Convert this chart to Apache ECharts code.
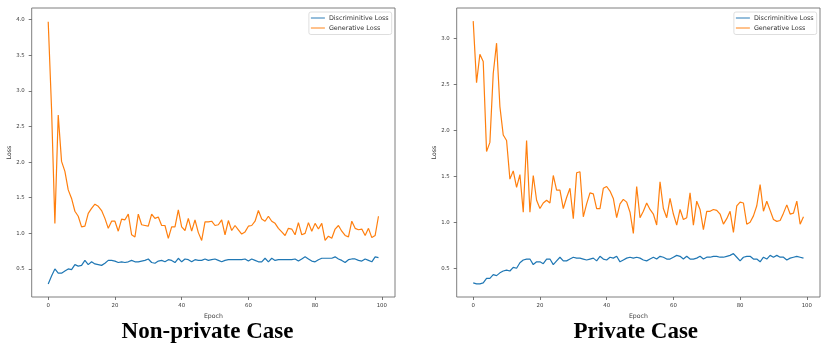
<!DOCTYPE html>
<html>
<head>
<meta charset="utf-8">
<script src="https://cdn.jsdelivr.net/npm/echarts@6/dist/echarts.min.js"></script>
<style>
html,body{margin:0;padding:0;background:#fff;}
#chart{width:831px;height:352px;}
</style>
</head>
<body>
<div id="chart"></div>
<script>
// ---- data ----
const seriesNames = ['Discriminitive Loss', 'Generative Loss'];
const panelTitles = ['Non-private Case', 'Private Case'];
const xTicks = [0, 20, 40, 60, 80, 100];
const yTicksLeft = [0.5, 1.0, 1.5, 2.0, 2.5, 3.0, 3.5, 4.0];
const yTicksRight = [0.5, 1.0, 1.5, 2.0, 2.5, 3.0];

const nonPrivateDisc = [0.29,0.40,0.50,0.44,0.44,0.47,0.50,0.49,0.56,0.54,
  0.55,0.62,0.56,0.60,0.57,0.56,0.55,0.58,0.62,0.62,
  0.61,0.59,0.60,0.59,0.60,0.62,0.60,0.60,0.61,0.62,
  0.64,0.59,0.58,0.61,0.62,0.60,0.63,0.62,0.59,0.65,
  0.60,0.64,0.63,0.60,0.63,0.62,0.62,0.64,0.62,0.63,
  0.64,0.62,0.60,0.62,0.63,0.63,0.63,0.63,0.63,0.64,
  0.61,0.64,0.62,0.60,0.60,0.65,0.60,0.65,0.62,0.63,
  0.63,0.63,0.63,0.63,0.64,0.61,0.64,0.67,0.64,0.61,
  0.60,0.63,0.65,0.65,0.65,0.65,0.67,0.64,0.62,0.59,
  0.63,0.64,0.64,0.62,0.61,0.64,0.62,0.60,0.67,0.66];
const nonPrivateGen = [3.97,2.75,1.14,2.66,2.01,1.87,1.61,1.49,1.31,1.24,
  1.09,1.10,1.28,1.35,1.41,1.38,1.32,1.21,1.07,1.17,
  1.17,1.03,1.20,1.19,1.27,0.98,0.95,1.27,1.12,1.11,
  1.10,1.27,1.21,1.23,1.11,1.11,0.93,1.09,1.09,1.33,
  1.09,1.04,1.21,1.03,1.19,1.01,0.90,1.16,1.16,1.17,
  1.11,1.12,1.19,0.98,1.18,1.04,1.11,1.05,0.99,1.02,
  1.10,1.11,1.17,1.32,1.20,1.17,1.24,1.17,1.14,1.07,
  1.02,0.97,1.07,1.06,0.98,1.15,0.98,1.00,1.15,1.03,
  1.14,1.06,1.14,0.90,0.96,0.93,1.06,1.11,1.03,0.97,
  0.95,1.17,1.07,1.05,1.06,0.97,1.07,0.94,0.97,1.24];
const privateDisc = [0.34,0.33,0.33,0.34,0.39,0.39,0.43,0.42,0.45,0.47,
  0.48,0.47,0.51,0.50,0.56,0.59,0.60,0.60,0.54,0.57,
  0.57,0.55,0.60,0.60,0.54,0.58,0.62,0.58,0.58,0.60,
  0.62,0.61,0.61,0.60,0.59,0.60,0.61,0.58,0.63,0.60,
  0.59,0.62,0.61,0.63,0.57,0.59,0.61,0.62,0.61,0.62,
  0.61,0.59,0.58,0.60,0.62,0.60,0.63,0.62,0.60,0.60,
  0.62,0.64,0.63,0.60,0.63,0.60,0.60,0.61,0.63,0.60,
  0.62,0.62,0.63,0.63,0.62,0.62,0.63,0.64,0.66,0.62,
  0.58,0.62,0.63,0.63,0.60,0.60,0.57,0.62,0.60,0.64,
  0.62,0.64,0.62,0.62,0.59,0.61,0.62,0.63,0.62,0.61];
const privateGen = [3.19,2.52,2.83,2.75,1.77,1.87,2.62,2.95,2.26,1.95,
  1.89,1.47,1.56,1.38,1.52,1.11,1.89,1.11,1.51,1.24,
  1.15,1.21,1.24,1.21,1.51,1.35,1.35,1.15,1.27,1.37,
  1.04,1.54,1.55,1.06,1.20,1.32,1.31,1.15,1.15,1.37,
  1.39,1.34,1.26,1.05,1.20,1.25,1.22,1.11,0.88,1.39,
  1.05,1.12,1.21,1.14,1.09,0.97,1.44,1.15,1.05,1.26,
  1.09,0.97,1.14,1.03,1.05,1.32,0.97,1.23,1.14,0.92,
  1.12,1.12,1.14,1.13,1.09,0.98,1.04,1.12,0.89,1.18,
  1.22,1.21,0.98,1.00,1.07,1.18,1.41,1.12,1.23,1.13,
  1.03,1.01,1.02,1.10,1.19,1.09,1.10,1.23,0.98,1.06];

// ---- chart ----
const BLUE = '#1f77b4', ORANGE = '#ff7f0e';
const pairs = arr => arr.map((v, i) => [i, v]);
const tickFont = { fontSize: 5.4, color: '#3a3a3a', fontFamily: 'DejaVu Sans' };
const nameFont = { fontSize: 6.2, color: '#3a3a3a', fontFamily: 'DejaVu Sans' };

function xAxisFor(gi) {
  return {
    type: 'value', gridIndex: gi, min: -4.95, max: 103.95, position: 'bottom',
    name: 'Epoch', nameLocation: 'middle', nameGap: 14, nameTextStyle: nameFont,
    axisLine: { show: false, onZero: false }, splitLine: { show: false },
    axisTick: { show: true, length: 3, customValues: xTicks, lineStyle: { color: '#555', width: 0.8 } },
    axisLabel: Object.assign({ customValues: xTicks, margin: 6, formatter: v => String(v) }, tickFont)
  };
}
function yAxisFor(gi, min, max, ticks) {
  return {
    type: 'value', gridIndex: gi, min: min, max: max, position: 'left',
    name: 'Loss', nameLocation: 'middle', nameGap: 19, nameTextStyle: nameFont,
    axisLine: { show: false, onZero: false }, splitLine: { show: false },
    axisTick: { show: true, length: 3, customValues: ticks, lineStyle: { color: '#555', width: 0.8 } },
    axisLabel: Object.assign({ customValues: ticks, margin: 7, formatter: v => v.toFixed(1) }, tickFont)
  };
}
function lineSeries(name, data, color, gi) {
  return {
    type: 'line', name: name, data: pairs(data), xAxisIndex: gi, yAxisIndex: gi,
    symbol: 'none', showSymbol: false, lineStyle: { color: color, width: 1.2 }, itemStyle: { color: color },
    animation: false
  };
}
function legendFor(right) {
  return {
    orient: 'vertical', top: 12, right: right,
    data: seriesNames,
    icon: 'rect',
    itemWidth: 14, itemHeight: 1.6, itemGap: 3,
    itemStyle: { opacity: 0.6 },
    padding: [2.5, 3, 3, 2],
    borderColor: '#d6d6d6', borderWidth: 0.8, borderRadius: 2, backgroundColor: '#fff',
    textStyle: { fontSize: 6.4, color: '#333', fontFamily: 'DejaVu Sans', lineHeight: 7, padding: [0, 0, 0, -1] }
  };
}

const chart = echarts.init(document.getElementById('chart'), null, { renderer: 'canvas' });
chart.setOption({
  backgroundColor: '#fff',
  animation: false,
  grid: [
    { left: 31.7, top: 8, width: 363.3, height: 289, show: true, borderColor: '#707070', borderWidth: 0.9, backgroundColor: 'transparent' },
    { left: 456.7, top: 8, width: 363.3, height: 289, show: true, borderColor: '#707070', borderWidth: 0.9, backgroundColor: 'transparent' }
  ],
  xAxis: [xAxisFor(0), xAxisFor(1)],
  yAxis: [yAxisFor(0, 0.106, 4.164, yTicksLeft), yAxisFor(1, 0.187, 3.333, yTicksRight)],
  legend: [
    Object.assign(legendFor(439.3), { id: 'lg0' }),
    Object.assign(legendFor(14.3), { id: 'lg1' })
  ],
  series: [
    lineSeries(seriesNames[0], nonPrivateDisc, BLUE, 0),
    lineSeries(seriesNames[1], nonPrivateGen, ORANGE, 0),
    lineSeries(seriesNames[0], privateDisc, BLUE, 1),
    lineSeries(seriesNames[1], privateGen, ORANGE, 1)
  ],
  graphic: [
    { type: 'text', style: { text: panelTitles[0], x: 207.5, y: 332.3, textAlign: 'center', textVerticalAlign: 'middle', font: 'bold 23px "Liberation Serif"', fill: '#000' } },
    { type: 'text', style: { text: panelTitles[1], x: 635.8, y: 332.3, textAlign: 'center', textVerticalAlign: 'middle', font: 'bold 23px "Liberation Serif"', fill: '#000' } }
  ]
});
</script>
</body>
</html>
